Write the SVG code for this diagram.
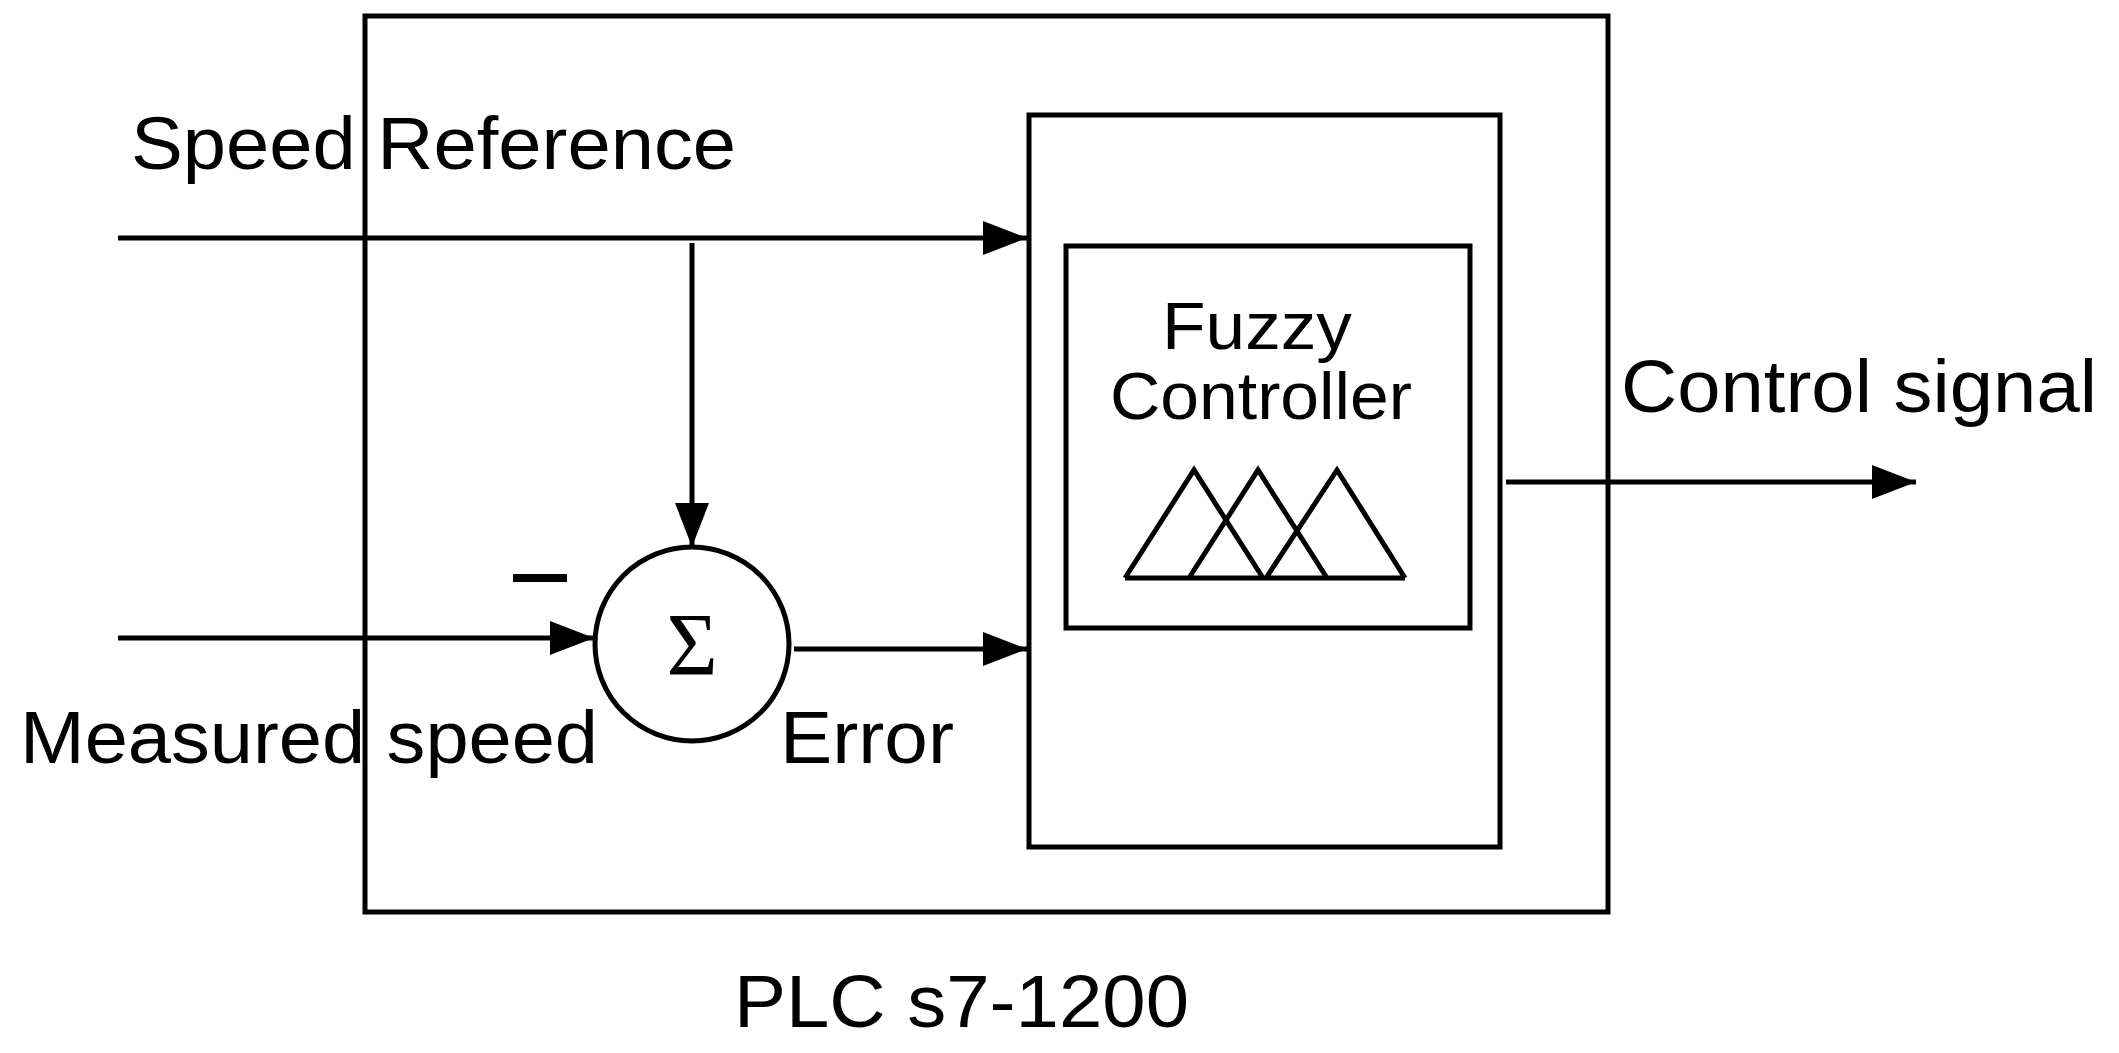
<svg xmlns="http://www.w3.org/2000/svg" width="2119" height="1053" viewBox="0 0 2119 1053">
<style>
.b{fill:none;stroke:#000;stroke-width:5}
.l{stroke:#000;stroke-width:5;fill:none}
text{font-family:"Liberation Sans",Arial,sans-serif;fill:#000}
.t{font-size:74px}
.s{font-size:66px}
</style>
<defs>
<marker id="ah" viewBox="0 0 10 10" refX="10" refY="5" markerWidth="44" markerHeight="34" orient="auto" markerUnits="userSpaceOnUse" preserveAspectRatio="none"><path d="M0,0L10,5L0,10z"/></marker></defs>
<rect width="2119" height="1053" fill="#fff"/>
<g id="plc"><rect class="b" x="365" y="16" width="1243" height="896"/><text class="t" x="734" y="1027" textLength="455" lengthAdjust="spacingAndGlyphs">PLC s7-1200</text></g>
<g id="controller"><rect class="b" x="1029" y="115" width="471" height="732"/></g>
<g id="fuzzy"><rect class="b" x="1066" y="246" width="404" height="382"/>
<text class="s" x="1162" y="349" textLength="190" lengthAdjust="spacingAndGlyphs">Fuzzy</text>
<text class="s" x="1110" y="419" textLength="302" lengthAdjust="spacingAndGlyphs">Controller</text>
<path class="l" d="M1125,578L1194,470L1263,578M1189,578L1258,470L1327,578M1266,578L1337,470L1405,578M1125,578H1405"/></g>
<g id="sum"><circle class="l" cx="692" cy="644" r="97"/><text x="692" y="674" text-anchor="middle" style="font-family:'Liberation Serif',serif;font-size:88px">Σ</text>
<rect x="513" y="574" width="54" height="8"/></g>
<g id="connectors">
<path class="l" d="M118,238H1027" marker-end="url(#ah)"/>
<path class="l" d="M692,243V547" marker-end="url(#ah)"/>
<path class="l" d="M118,638H594" marker-end="url(#ah)"/>
<path class="l" d="M794,649H1027" marker-end="url(#ah)"/>
<path class="l" d="M1506,482H1916" marker-end="url(#ah)"/>
</g>
<text class="t" x="131" y="169" textLength="605" lengthAdjust="spacingAndGlyphs">Speed Reference</text>
<text class="t" x="20" y="763" textLength="578" lengthAdjust="spacingAndGlyphs">Measured speed</text>
<text class="t" x="780" y="763" textLength="174" lengthAdjust="spacingAndGlyphs">Error</text>
<text class="t" x="1621" y="412" textLength="476" lengthAdjust="spacingAndGlyphs">Control signal</text>
</svg>
